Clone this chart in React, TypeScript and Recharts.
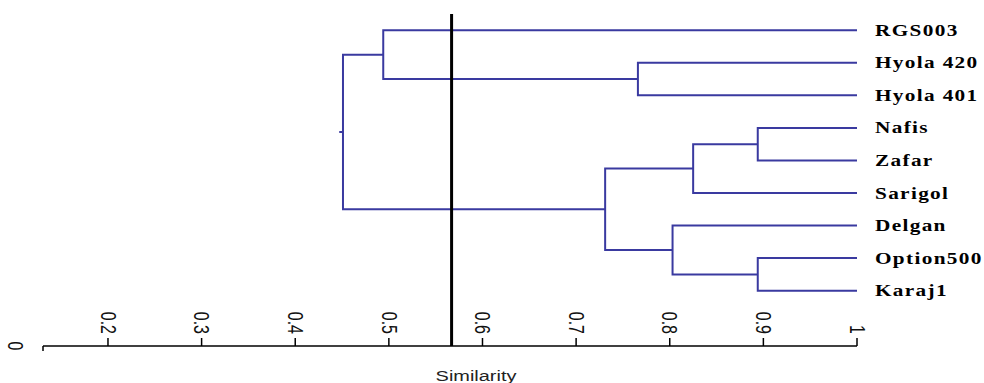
import { ComposedChart, Line, XAxis, YAxis, ReferenceLine } from 'recharts';

// leaf order top -> bottom
const LEAVES = ['RGS003', 'Hyola 420', 'Hyola 401', 'Nafis', 'Zafar', 'Sarigol', 'Delgan', 'Option500', 'Karaj1'];

// [childA, childB, similarity]; ids 0..8 are leaves, 9+ are merged clusters in order
const MERGES: [number, number, number][] = [
  [3, 4, 0.894],
  [7, 8, 0.894],
  [9, 5, 0.825],
  [6, 10, 0.803],
  [1, 2, 0.766],
  [11, 12, 0.731],
  [0, 13, 0.494],
  [15, 14, 0.451],
];

const LEAF_SIMILARITY = 1;
const CUTOFF = 0.567;
const AXIS_START = 0.1306; // the axis is drawn from here, labelled "0"
const X_TICKS = [AXIS_START, 0.2, 0.3, 0.4, 0.5, 0.6, 0.7, 0.8, 0.9, 1];
const ROOT_STUB = 0.004;

const LINE_COLOR = '#3a3aa0';

type Pt = { x: number; y: number };

const nodes: Pt[] = LEAVES.map((_, i) => ({ x: LEAF_SIMILARITY, y: i }));
const branches: Pt[][] = [];
MERGES.forEach(([a, b, h]) => {
  const na = nodes[a];
  const nb = nodes[b];
  branches.push([
    { x: na.x, y: na.y },
    { x: h, y: na.y },
    { x: h, y: nb.y },
    { x: nb.x, y: nb.y },
  ]);
  nodes.push({ x: h, y: (na.y + nb.y) / 2 });
});
const root = nodes[nodes.length - 1];
branches.push([
  { x: root.x, y: root.y },
  { x: root.x - ROOT_STUB, y: root.y },
]);

const XTick = (props: any) => {
  const { x, y, payload } = props;
  const v = payload.value;
  if (v === AXIS_START) {
    return (
      <g>
        <line x1={x} y1={y} x2={x} y2={y + 5} stroke="#000" strokeWidth={1.5} />
        <text
          transform={`translate(${x - 28},${y}) scale(1.33,1) rotate(90)`}
          textAnchor="middle"
          dominantBaseline="central"
          fontFamily="'Liberation Sans', Arial, sans-serif"
          fontSize={16}
          fill="#111"
        >
          0
        </text>
      </g>
    );
  }
  const label = v === 1 ? '1' : v.toFixed(1);
  return (
    <g>
      <line x1={x} y1={y} x2={x} y2={y - 8} stroke="#000" strokeWidth={1.5} />
      <text
        transform={`translate(${x},${y - 12}) scale(1.33,1) rotate(90)`}
        textAnchor="end"
        dominantBaseline="central"
        fontFamily="'Liberation Sans', Arial, sans-serif"
        fontSize={16}
        fill="#111"
      >
        {label}
      </text>
    </g>
  );
};

const LeafTick = (props: any) => {
  const { x, y, payload } = props;
  return (
    <text
      transform={`translate(${x + 18},${y}) scale(1.33,1)`}
      dominantBaseline="central"
      fontFamily="'Liberation Serif', 'Times New Roman', serif"
      fontWeight="bold"
      fontSize={16}
      letterSpacing={1}
      fill="#000"
    >
      {LEAVES[payload.value]}
    </text>
  );
};

export default function App() {
  return (
    <div style={{ position: 'absolute', left: 0, top: 0, width: 984, height: 383, background: '#fff' }}>
      <ComposedChart width={984} height={383} margin={{ top: 14, right: 0, bottom: 0, left: 43 }}>
        <XAxis
          type="number"
          dataKey="x"
          domain={[AXIS_START, 1]}
          ticks={X_TICKS}
          allowDataOverflow
          height={37}
          tickSize={0}
          tickMargin={0}
          tickLine={false}
          axisLine={{ stroke: '#000', strokeWidth: 1.5 }}
          tick={XTick}
          interval={0}
          label={{
            content: () => (
              <text
                transform="translate(476,381) scale(1.33,1)"
                textAnchor="middle"
                fontFamily="'Liberation Sans', Arial, sans-serif"
                fontSize={15}
                fill="#222"
              >
                Similarity
              </text>
            ),
          }}
        />
        <YAxis
          type="number"
          orientation="right"
          domain={[-0.5, 9.7]}
          reversed
          ticks={LEAVES.map((_, i) => i)}
          interval={0}
          width={127}
          axisLine={false}
          tickLine={false}
          tickSize={0}
          tickMargin={0}
          tick={LeafTick}
        />
        {branches.map((data, i) => (
          <Line
            key={i}
            data={data}
            dataKey="y"
            type="linear"
            stroke={LINE_COLOR}
            strokeWidth={2}
            dot={false}
            activeDot={false}
            isAnimationActive={false}
          />
        ))}
        <ReferenceLine x={CUTOFF} stroke="#000" strokeWidth={3} />
      </ComposedChart>
    </div>
  );
}
